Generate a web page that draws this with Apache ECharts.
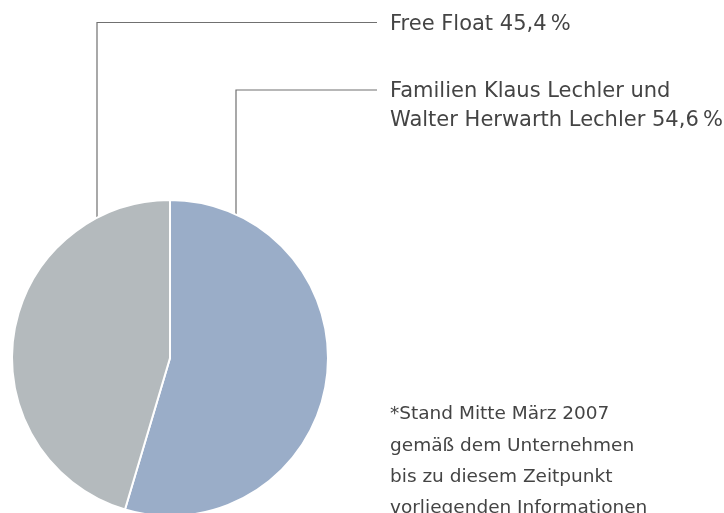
<!DOCTYPE html>
<html>
<head>
<meta charset="utf-8">
<script src="https://cdn.jsdelivr.net/npm/echarts@6/dist/echarts.min.js"></script>
<style>
  html, body { margin: 0; padding: 0; background: #ffffff; }
  #chart { width: 724px; height: 513px; }
</style>
</head>
<body>
<div id="chart"></div>
<script>
// Shareholder structure
const holders = ['Familien Klaus Lechler und\nWalter Herwarth Lechler', 'Free Float'];
const shares = [54.6, 45.4];
const sliceColors = ['#9aadc8', '#b4babd'];
const footnote = [
  '*Stand Mitte März 2007',
  'gemäß dem Unternehmen',
  'bis zu diesem Zeitpunkt',
  'vorliegenden Informationen'
];

const fmt = v => v.toFixed(1).replace('.', ',') + '\u2009%';

const FONT = '"DejaVu Sans"';
const TEXT_COLOR = '#444444';
const chart = echarts.init(document.getElementById('chart'));

// Label anchors: [vertical leader x, label centre y, horizontal leader y]
const anchors = [[236, 106, 90], [97, 24.5, 22.5]];
const cx = 170, cy = 358, R = 158;

chart.setOption({
  animation: false,
  series: [{
    type: 'pie',
    center: [cx, cy],
    radius: R,
    startAngle: 90,
    clockwise: true,
    data: holders.map((name, i) => ({
      name,
      value: shares[i],
      itemStyle: { color: sliceColors[i] }
    })),
    itemStyle: { borderColor: '#ffffff', borderWidth: 2 },
    emphasis: { disabled: true },
    label: {
      show: true,
      position: 'outside',
      overflow: 'none',
      formatter: p => {
        const lines = p.name.split('\n');
        lines[lines.length - 1] += ' ' + fmt(p.value);
        return lines.join('\n');
      },
      fontFamily: FONT,
      fontSize: 21,
      color: TEXT_COLOR,
      lineHeight: 29
    },
    labelLine: {
      show: true,
      lineStyle: { color: '#707070', width: 1.2 }
    },
    labelLayout: p => {
      const [lx, ly, lineY] = anchors[p.dataIndex];
      const edgeY = cy - Math.sqrt(R * R - (lx - cx) * (lx - cx)) + 2;
      return {
        x: 390,
        y: ly,
        align: 'left',
        verticalAlign: 'middle',
        labelLinePoints: [[lx, edgeY], [lx, lineY], [377, lineY]]
      };
    }
  }],
  graphic: [{
    type: 'text',
    left: 390,
    top: 399,
    silent: true,
    style: {
      text: footnote.join('\n'),
      font: '18.5px ' + FONT,
      fill: TEXT_COLOR,
      lineHeight: 31.3
    }
  }]
});
</script>
</body>
</html>
